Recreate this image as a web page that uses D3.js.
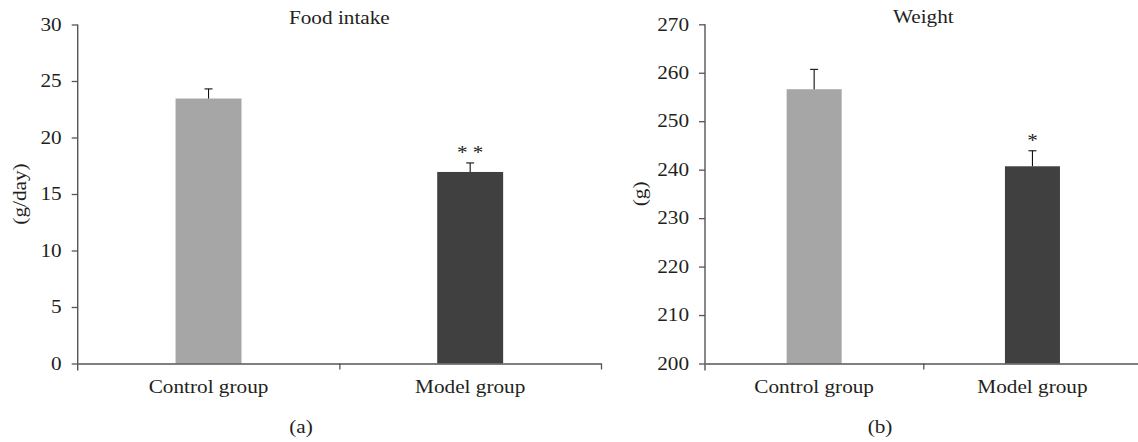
<!DOCTYPE html>
<html>
<head>
<meta charset="utf-8">
<script src="https://cdn.jsdelivr.net/npm/d3@7"></script>
<style>
  html, body { margin: 0; padding: 0; background: #fff; }
  svg { display: block; }
  text { font-family: "Liberation Serif", "Times New Roman", serif; fill: #231f20; }
</style>
</head>
<body>
<svg id="chart" width="1138" height="442"></svg>
<script>
// ---- Data ----
const categories = ["Control group", "Model group"];

const foodTitle = "Food intake";
const foodUnit = "(g/day)";
const foodValues = [23.45, 16.95];
const foodErrors = [0.85, 0.8];
const foodSignif = ["", "* *"];
const foodTicks = [0, 5, 10, 15, 20, 25, 30];

const weightTitle = "Weight";
const weightUnit = "(g)";
const weightValues = [256.6, 240.7];
const weightErrors = [4.1, 3.2];
const weightSignif = ["", "*"];
const weightTicks = [200, 210, 220, 230, 240, 250, 260, 270];

const barColors = ["#a6a6a6", "#404040"];
const panelLabels = ["(a)", "(b)"];

// ---- Drawing ----
const svg = d3.select("#chart");
const axisColor = "#555";
const fontSize = 18;
const sx = 1.18; // horizontal stretch to mimic the wider original serif face

function placeText(sel, x, y, extra) {
  sel.attr("transform", `translate(${x},${y})${extra || ""} scale(${sx},1)`);
  return sel;
}

function drawPanel(opts) {
  const { left, right, top, bottom, ticks, values, errors, signif, title, unit, unitX, panelLabel, panelX } = opts;
  const g = svg.append("g");

  const x = d3.scaleBand().domain(categories).range([left, right]).paddingInner(0).paddingOuter(0);
  const y = d3.scaleLinear().domain([ticks[0], ticks[ticks.length - 1]]).range([bottom, top]);
  const barW = x.bandwidth() * 0.252;
  const cx = d => x(d) + x.bandwidth() / 2;

  // bars
  g.selectAll("rect.bar").data(categories).enter().append("rect")
    .attr("class", "bar")
    .attr("x", d => cx(d) - barW / 2)
    .attr("width", barW)
    .attr("y", (d, i) => y(values[i]))
    .attr("height", (d, i) => y(ticks[0]) - y(values[i]))
    .attr("fill", (d, i) => barColors[i]);

  // error bars (upper half)
  const eg = g.selectAll("g.err").data(categories).enter().append("g").attr("class", "err");
  eg.append("line")
    .attr("x1", cx).attr("x2", cx)
    .attr("y1", (d, i) => y(values[i])).attr("y2", (d, i) => y(values[i] + errors[i]))
    .attr("stroke", "#111").attr("stroke-width", 1.1);
  eg.append("line")
    .attr("x1", d => cx(d) - 4).attr("x2", d => cx(d) + 4)
    .attr("y1", (d, i) => y(values[i] + errors[i])).attr("y2", (d, i) => y(values[i] + errors[i]))
    .attr("stroke", "#111").attr("stroke-width", 1.1);

  // significance marks
  g.selectAll("text.sig").data(categories).enter().append("text")
    .attr("class", "sig")
    .attr("transform", (d, i) => `translate(${cx(d)},${y(values[i] + errors[i]) - 4}) scale(${sx},1)`)
    .attr("text-anchor", "middle")
    .attr("font-size", fontSize)
    .text((d, i) => signif[i]);

  // y axis
  const yAxis = g.append("g").attr("transform", `translate(${left},0)`)
    .call(d3.axisLeft(y).tickValues(ticks).tickSize(6).tickPadding(10).tickSizeOuter(0));
  yAxis.select(".domain").attr("stroke", axisColor).attr("stroke-width", 1.4)
    .attr("d", `M0,${top}V${bottom + 7}`);
  yAxis.selectAll(".tick line").attr("stroke", axisColor).attr("stroke-width", 1.3);
  yAxis.selectAll(".tick text")
    .attr("font-size", fontSize).attr("font-family", "Liberation Serif").attr("fill", "#231f20")
    .attr("x", -16 / sx).attr("transform", `scale(${sx},1)`);

  // x axis boundary ticks
  const xb = d3.scaleLinear().domain([0, categories.length]).range([left, right]);
  const xAxis = g.append("g").attr("transform", `translate(0,${bottom})`)
    .call(d3.axisBottom(xb).tickValues(d3.range(1, categories.length + 1)).tickFormat("").tickSize(6).tickSizeOuter(0));
  xAxis.select(".domain").attr("stroke", axisColor).attr("stroke-width", 1.4);
  xAxis.selectAll(".tick line").attr("stroke", axisColor).attr("stroke-width", 1.3);

  // category labels
  const xLab = g.append("g").attr("transform", `translate(0,${bottom})`)
    .call(d3.axisBottom(x).tickSize(0).tickPadding(17));
  xLab.select(".domain").remove();
  xLab.selectAll(".tick text")
    .attr("font-size", fontSize).attr("font-family", "Liberation Serif").attr("fill", "#231f20")
    .attr("transform", `scale(${sx},1)`);

  // title
  placeText(g.append("text"), (left + right) / 2, top - 1)
    .attr("text-anchor", "middle").attr("font-size", fontSize)
    .text(title);

  // y unit label
  placeText(g.append("text"), unitX, (top + bottom) / 2, " rotate(-90)")
    .attr("dy", "0.35em")
    .attr("text-anchor", "middle").attr("font-size", fontSize)
    .text(unit);

  // panel label
  placeText(g.append("text"), panelX, 433)
    .attr("text-anchor", "middle").attr("font-size", fontSize)
    .text(panelLabel);
}

drawPanel({
  left: 77.7, right: 601, top: 24.5, bottom: 363.5,
  ticks: foodTicks, values: foodValues, errors: foodErrors, signif: foodSignif,
  title: foodTitle, unit: foodUnit, unitX: 20, panelLabel: panelLabels[0], panelX: 301
});

drawPanel({
  left: 705, right: 1141.6, top: 24.3, bottom: 363.5,
  ticks: weightTicks, values: weightValues, errors: weightErrors, signif: weightSignif,
  title: weightTitle, unit: weightUnit, unitX: 640, panelLabel: panelLabels[1], panelX: 880
});
</script>
</body>
</html>
